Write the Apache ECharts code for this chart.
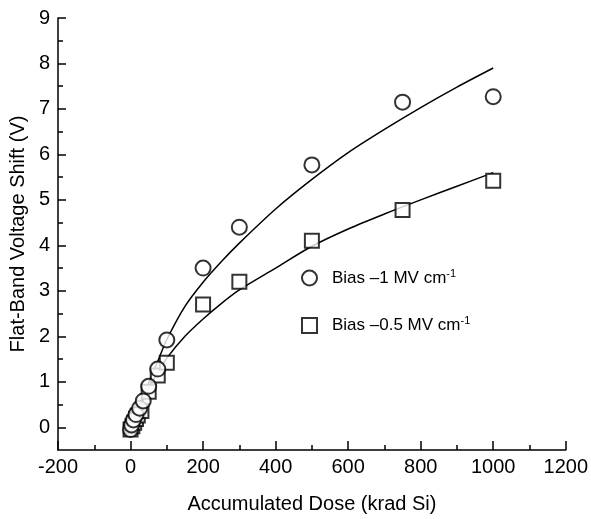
<!DOCTYPE html>
<html>
<head>
<meta charset="utf-8">
<script src="https://cdn.jsdelivr.net/npm/echarts@6/dist/echarts.min.js"></script>
<style>
  html, body { margin: 0; padding: 0; background: #fff; }
  #chart { width: 591px; height: 519px; }
</style>
</head>
<body>
<div id="chart"></div>
<script>
// measured points, bias -1 MV/cm (circles)
const biasHighPts = [
  [0, -0.05], [3, 0.05], [8, 0.16], [15, 0.28], [25, 0.42], [35, 0.58],
  [50, 0.9], [75, 1.28], [100, 1.92], [200, 3.5], [300, 4.4],
  [500, 5.77], [750, 7.15], [1000, 7.27]
];
// measured points, bias -0.5 MV/cm (squares)
const biasLowPts = [
  [0, -0.05], [5, 0.02], [10, 0.1], [15, 0.18], [20, 0.26], [30, 0.36],
  [50, 0.78], [75, 1.14], [100, 1.42], [200, 2.7], [300, 3.2],
  [500, 4.1], [750, 4.78], [1000, 5.42]
];
// fitted curves
const fitHigh = [
  [0, 0], [25, 0.5], [50, 0.98], [75, 1.45], [100, 1.93], [150, 2.66],
  [200, 3.19], [250, 3.64], [300, 4.05], [400, 4.8], [500, 5.45],
  [600, 6.04], [700, 6.55], [800, 7.03], [900, 7.48], [1000, 7.9]
];
const fitLow = [
  [0, 0], [25, 0.44], [50, 0.85], [75, 1.2], [100, 1.52], [150, 2.0],
  [200, 2.38], [250, 2.72], [300, 3.02], [400, 3.5], [500, 3.98],
  [600, 4.36], [700, 4.69], [800, 5.0], [900, 5.3], [1000, 5.6]
];
const yTickValues = [0, 1, 2, 3, 4, 5, 6, 7, 8, 9];
const yMinorValues = [0.5, 1.5, 2.5, 3.5, 4.5, 5.5, 6.5, 7.5, 8.5];

const FONT = 'Liberation Sans';

const chart = echarts.init(document.getElementById('chart'));
chart.setOption({
  animation: false,
  textStyle: { fontFamily: FONT, color: '#000' },
  grid: { left: 58, right: 25, top: 18, bottom: 68 },
  legend: {
    data: [
      { name: 'Bias –1 MV cm-1', icon: 'circle' },
      { name: 'Bias –0.5 MV cm-1', icon: 'rect' }
    ],
    orient: 'vertical',
    left: 296,
    top: 263,
    itemGap: 29,
    itemWidth: 15,
    itemHeight: 15,
    formatter: function (name) {
      return '{a|' + name.replace(/-1$/, '') + '}{s|-1}';
    },
    textStyle: {
      rich: {
        a: { fontFamily: FONT, fontSize: 17, color: '#000', padding: [0, 0, 0, 10] },
        s: { fontFamily: FONT, fontSize: 11, color: '#000', padding: [0, 0, 9, 0] }
      }
    }
  },
  xAxis: {
    type: 'value',
    min: -200,
    max: 1200,
    interval: 200,
    name: 'Accumulated Dose (krad Si)',
    nameLocation: 'middle',
    nameGap: 44,
    nameTextStyle: { fontSize: 20, fontFamily: FONT, color: '#000' },
    axisLine: { onZero: false, lineStyle: { color: '#000', width: 1.5 } },
    axisTick: { inside: true, length: 9, lineStyle: { color: '#000', width: 1.5 } },
    minorTick: { show: true, splitNumber: 2, length: 5, lineStyle: { color: '#000', width: 1.5 } },
    axisLabel: { fontSize: 20, color: '#000', margin: 7, formatter: v => String(v) },
    splitLine: { show: false }
  },
  yAxis: [
    {
      type: 'value',
      min: -0.5,
      max: 9,
      name: 'Flat-Band Voltage Shift (V)',
      nameLocation: 'middle',
      nameGap: 28,
      nameTextStyle: { fontSize: 20, fontFamily: FONT, color: '#000' },
      axisLine: { onZero: false, lineStyle: { color: '#000', width: 1.5 } },
      axisTick: {
        inside: true, length: 8, customValues: yTickValues,
        lineStyle: { color: '#000', width: 1.5 }
      },
      axisLabel: { fontSize: 20, color: '#000', margin: 8, customValues: yTickValues },
      splitLine: { show: false }
    },
    {
      type: 'value',
      position: 'left',
      min: -0.5,
      max: 9,
      axisLine: { show: false, onZero: false },
      axisTick: {
        inside: true, length: 5, customValues: yMinorValues,
        lineStyle: { color: '#000', width: 1.5 }
      },
      axisLabel: { show: false },
      splitLine: { show: false }
    }
  ],
  series: [
    {
      type: 'line', data: fitHigh, smooth: 0.3, showSymbol: false,
      lineStyle: { color: '#000', width: 1.5 }, z: 1
    },
    {
      type: 'line', data: fitLow, smooth: 0.3, showSymbol: false,
      lineStyle: { color: '#000', width: 1.5 }, z: 1
    },
    {
      name: 'Bias –0.5 MV cm-1', type: 'scatter', data: biasLowPts,
      symbol: 'rect', symbolSize: 14,
      itemStyle: { color: '#fff', borderColor: '#000', borderWidth: 2 }, z: 2
    },
    {
      name: 'Bias –1 MV cm-1', type: 'scatter', data: biasHighPts,
      symbol: 'circle', symbolSize: 15,
      itemStyle: { color: '#fff', borderColor: '#000', borderWidth: 2 }, z: 3
    }
  ]
});
</script>
</body>
</html>
